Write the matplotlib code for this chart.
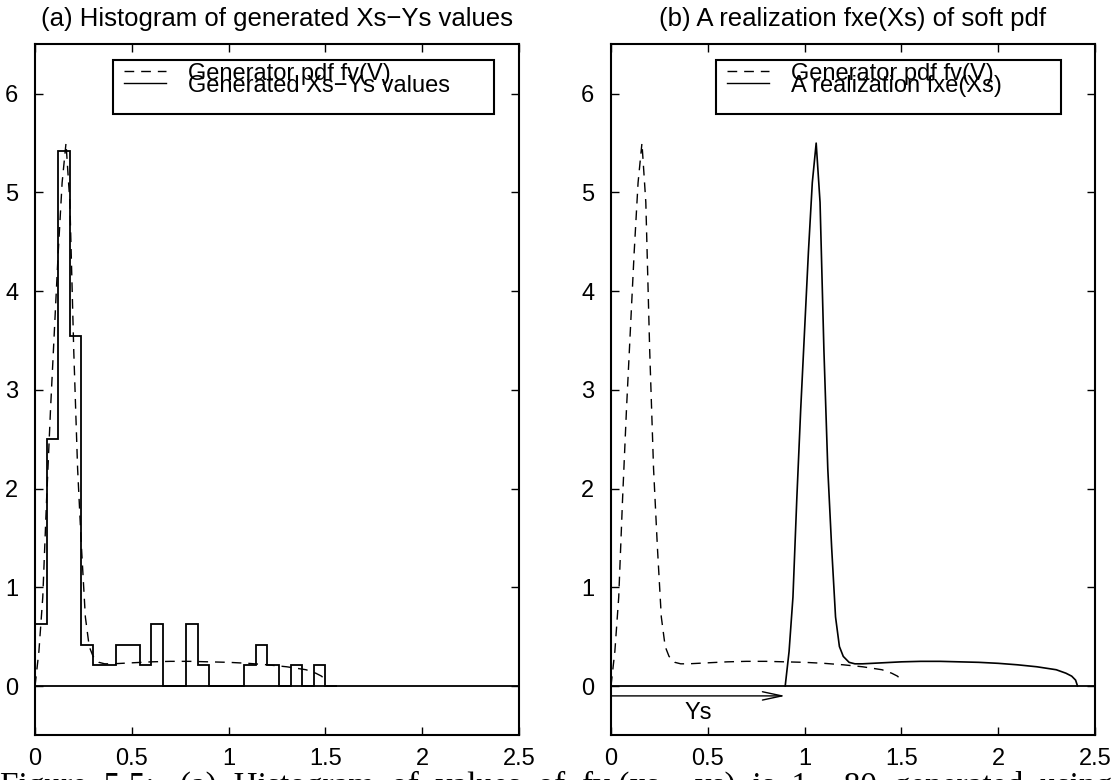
import numpy as np
import matplotlib.pyplot as plt
from matplotlib.patches import Rectangle

plt.rcParams['font.family'] = ['Liberation Sans', 'DejaVu Sans']

# generator pdf fv(V)
v_pts = [0, 0.02, 0.04, 0.06, 0.08, 0.10, 0.12, 0.14, 0.16, 0.18, 0.20, 0.22,
         0.24, 0.26, 0.28, 0.30, 0.33, 0.36, 0.40, 0.5, 0.6, 0.7, 0.8, 0.9,
         1.0, 1.1, 1.2, 1.3, 1.35, 1.4, 1.45, 1.48, 1.5]
fv_vals = [0, 0.35, 0.9, 1.9, 2.8, 3.6, 4.4, 5.1, 5.5, 4.9, 3.4, 2.2,
           1.4, 0.7, 0.4, 0.3, 0.24, 0.225, 0.225, 0.235, 0.245, 0.25, 0.25, 0.245,
           0.24, 0.23, 0.215, 0.195, 0.18, 0.165, 0.13, 0.1, 0.06]

# histogram of 80 generated Xs-Ys values, bin width 0.06
n_samples = 80
bin_width = 0.06
bin_counts = [3, 12, 26, 17, 2, 1, 1, 2, 2, 1, 3, 0, 0, 3, 1, 0, 0, 0,
              1, 2, 1, 0, 1, 0, 1, 0]

# soft datum realization
ys = 0.9

x_ticks = [0, 0.5, 1, 1.5, 2, 2.5]
x_tick_labels = ["0", "0.5", "1", "1.5", "2", "2.5"]
y_ticks = [0, 1, 2, 3, 4, 5, 6]

titles = ["(a) Histogram of generated Xs\u2212Ys values",
          "(b) A realization fxe(Xs) of soft pdf"]
legend_labels = [["Generator pdf fv(V)", "Generated Xs\u2212Ys values"],
                 ["Generator pdf fv(V)", "A realization fxe(Xs)"]]
caption = ("Figure  5.5:   (a)  Histogram  of  values  of  fv (xs \u2212 ys)  "
           "is  1 \u2212 80  generated  using  the  soft  d")

dash = (0, (7, 5))

fig = plt.figure(figsize=(11.19, 7.8), dpi=100)
ax1 = fig.add_axes([0.0313, 0.0572, 0.4325, 0.8859])
ax2 = fig.add_axes([0.546, 0.0572, 0.4325, 0.8859])


def style_axes(ax, title):
    ax.set_xlim(0, 2.5)
    ax.set_ylim(-0.5, 6.5)
    ax.set_xticks(x_ticks)
    ax.set_xticklabels(x_tick_labels)
    ax.set_yticks(y_ticks)
    ax.tick_params(direction="in", length=6, width=1, top=True, right=True,
                   labelsize=17)
    ax.tick_params(axis="x", pad=9)
    ax.tick_params(axis="y", pad=12)
    for s in ax.spines.values():
        s.set_linewidth(1.5)
    ax.set_title(title, fontsize=18.5, pad=13)
    ax.axhline(0, color="black", lw=1.3)


def draw_legend(ax, labels, box):
    x0, y0, x1, y1 = box
    ax.add_patch(Rectangle((x0, y0), x1 - x0, y1 - y0, transform=ax.transAxes,
                           facecolor="white", edgecolor="black", lw=1.5, zorder=5))
    line_rows = [y1 - 0.016, y1 - 0.033]
    text_rows = [y1 - 0.029, y1 - 0.046]
    ax.plot([x0 + 0.023, x0 + 0.11], [line_rows[0]] * 2, color="black", lw=1,
            ls=dash, transform=ax.transAxes, zorder=6)
    ax.plot([x0 + 0.023, x0 + 0.11], [line_rows[1]] * 2, color="black", lw=1,
            transform=ax.transAxes, zorder=6)
    for r, lab in zip(text_rows, labels):
        ax.text(x0 + 0.155, r, lab, transform=ax.transAxes, fontsize=17,
                va="baseline", ha="left", zorder=7)


# (a) histogram
edges = np.arange(len(bin_counts) + 1) * bin_width
density = np.array(bin_counts) / (n_samples * bin_width)
style_axes(ax1, titles[0])
ax1.stairs(density, edges, color="black", lw=1.3)
ax1.plot(v_pts, fv_vals, color="black", lw=1, ls=dash)
draw_legend(ax1, legend_labels[0], (0.161, 0.899, 0.948, 0.977))

# (b) realization shifted by Ys
style_axes(ax2, titles[1])
xs_pts = [v + ys for v in v_pts] + [v_pts[-1] + ys + 0.01]
fxe_vals = fv_vals + [0]
ax2.plot(v_pts, fv_vals, color="black", lw=1, ls=dash)
ax2.plot(xs_pts, fxe_vals, color="black", lw=1.2)
ax2.annotate("", xy=(ys, -0.1), xytext=(0, -0.1),
             arrowprops=dict(arrowstyle="->,head_length=1.4,head_width=0.3",
                             color="black", lw=1, shrinkA=0, shrinkB=0))
ax2.text(ys / 2, -0.27, "Ys", fontsize=17, ha="center", va="center")
draw_legend(ax2, legend_labels[1], (0.217, 0.899, 0.93, 0.977))

# caption, cut by the bottom edge
fig.text(0.0, 0.012, caption, fontsize=24,
         family=["Liberation Serif", "DejaVu Serif"], ha="left", va="top")

fig.savefig("out.png", dpi=100)
